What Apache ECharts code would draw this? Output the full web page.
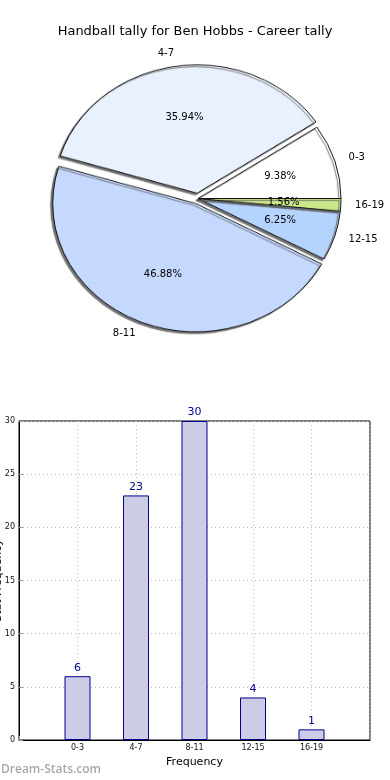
<!DOCTYPE html>
<html><head><meta charset="utf-8">
<script src="https://cdn.jsdelivr.net/npm/echarts@6/dist/echarts.min.js"></script>
<style>
html,body{margin:0;padding:0;background:#fff;width:390px;height:780px;overflow:hidden}
#wedges{position:absolute;left:0;top:0;width:390px;height:400px;transform:scaleY(0.8975);transform-origin:198px 198.5px}
#main{position:absolute;left:0;top:0;width:390px;height:780px}
</style></head><body>
<div id="wedges"></div><div id="main"></div>
<script>
// ---- data ----
const chartTitle = 'Handball tally for Ben Hobbs - Career tally';
const categories = ['0-3', '4-7', '8-11', '12-15', '16-19'];
const counts = [6, 23, 30, 4, 1];
const explodedCategories = ['4-7', '8-11'];
const yTickMin = 0, yTickMax = 30, yTickStep = 5;
const xAxisTitle = 'Frequency';
const yAxisTitle = 'Stat Frequency';
const watermark = 'Dream-Stats.com';

// ---- style ----
const sliceColors = ['#ffffff', '#e9f0fe', '#c5d9fe', '#b4d4fe', '#cbe98a'];
const FONT = 'DejaVu Sans';
const CX = 198, CY = 198.5, R = 143, K = 0.8975, EXPLODE = 6;
const total = counts.reduce((a, b) => a + b, 0);
const pct = p => (counts[p.dataIndex] / total * 100).toFixed(2) + '%';
const isExploded = i => explodedCategories.includes(categories[i]);

// wedges (drawn in a vertically squeezed layer -> elliptical pie)
const wedges = echarts.init(document.getElementById('wedges'), null, { renderer: 'canvas' });
wedges.setOption({
  animation: false,
  series: [{
    type: 'pie', center: [CX, CY], radius: R, startAngle: 0, clockwise: false,
    selectedMode: 'multiple', selectedOffset: EXPLODE, avoidLabelOverlap: false,
    label: { show: false }, labelLine: { show: false },
    itemStyle: { borderColor: '#111', borderWidth: 1, shadowColor: 'rgba(90,90,90,0.85)', shadowBlur: 1, shadowOffsetX: -2, shadowOffsetY: 2 },
    emphasis: { disabled: true },
    data: categories.map((c, i) => ({ name: c, value: counts[i], selected: isExploded(i), itemStyle: { color: sliceColors[i] } }))
  }]
});

// labels: placed by a transparent pie, then moved by the explode offset and squeezed like the wedges
function squash(isName) {
  return function (p) {
    const r = p.labelRect;
    let ax = r.x + r.width / 2, ay = r.y + r.height / 2;
    if (isExploded(p.dataIndex)) {
      const dx = ax - CX, dy = ay - CY, len = Math.hypot(dx, dy) || 1;
      ax += EXPLODE * dx / len; ay += EXPLODE * dy / len;
    }
    return {
      x: ax, y: CY + (ay - CY) * K, verticalAlign: 'middle',
      align: isName ? (ax > CX ? 'left' : 'right') : 'center'
    };
  };
}
const labelPie = (radius, fmt, isName) => ({
  type: 'pie', center: [CX, CY], radius: radius, startAngle: 0, clockwise: false,
  avoidLabelOverlap: false, silent: true,
  itemStyle: { color: 'rgba(0,0,0,0)', borderWidth: 0 },
  label: { show: true, position: 'inside', formatter: fmt, fontSize: 10, color: '#000', fontFamily: FONT },
  labelLine: { show: false },
  labelLayout: squash(isName),
  emphasis: { disabled: true },
  data: categories.map((c, i) => ({ name: c, value: counts[i] }))
});

const main = echarts.init(document.getElementById('main'), null, { renderer: 'canvas' });
main.setOption({
  animation: false,
  backgroundColor: 'transparent',
  title: [
    { text: chartTitle, left: 'center', top: 20, textStyle: { fontSize: 13, fontWeight: 'normal', color: '#000', fontFamily: FONT } },
    { text: watermark, left: -4, top: 759, textStyle: { fontSize: 12, fontWeight: 600, color: '#a8a8a8', fontFamily: 'Open Sans' } }
  ],
  grid: { left: 19, right: 20, top: 421, bottom: 40, show: true, borderColor: '#000', borderWidth: 1, containLabel: false, outerBoundsMode: 'none' },
  xAxis: {
    type: 'category', boundaryGap: false, data: [''].concat(categories, ['']),
    axisLine: { lineStyle: { color: '#000' } },
    axisTick: { show: true, inside: true, length: 4, lineStyle: { color: '#999' } },
    axisLabel: { fontSize: 8, color: '#111', fontFamily: FONT, margin: 4, interval: 0 },
    splitLine: { show: true, interval: 0, lineStyle: { color: '#bdbdbd', type: [1, 3], width: 1 } },
    name: xAxisTitle, nameLocation: 'middle', nameGap: 17,
    nameTextStyle: { fontSize: 11, color: '#000', fontFamily: FONT }
  },
  yAxis: {
    type: 'value', min: yTickMin, max: yTickMax, interval: yTickStep,
    axisLine: { show: true, lineStyle: { color: '#000' } },
    axisTick: { show: true, inside: true, length: 4, lineStyle: { color: '#999' } },
    axisLabel: { fontSize: 8, color: '#111', fontFamily: FONT, margin: 4 },
    splitLine: { show: true, lineStyle: { color: '#bdbdbd', type: [1, 3], width: 1 } },
    name: yAxisTitle, nameLocation: 'middle', nameGap: 15, nameMoveOverlap: false,
    nameTextStyle: { fontSize: 11, color: '#000', fontFamily: FONT }
  },
  series: [
    labelPie([0, R * 1.2 - 6], pct, false),
    labelPie([R - 3, R * 1.2 - 3], '{b}', true),
    {
      type: 'bar', data: ['-'].concat(counts, ['-']), barWidth: 26,
      itemStyle: { color: '#ccccE6', borderColor: '#00008b', borderWidth: 1 },
      label: { show: true, position: 'top', distance: 3, color: '#00008b', fontSize: 11, fontFamily: FONT },
      emphasis: { disabled: true }
    }
  ]
});
</script>
</body></html>
